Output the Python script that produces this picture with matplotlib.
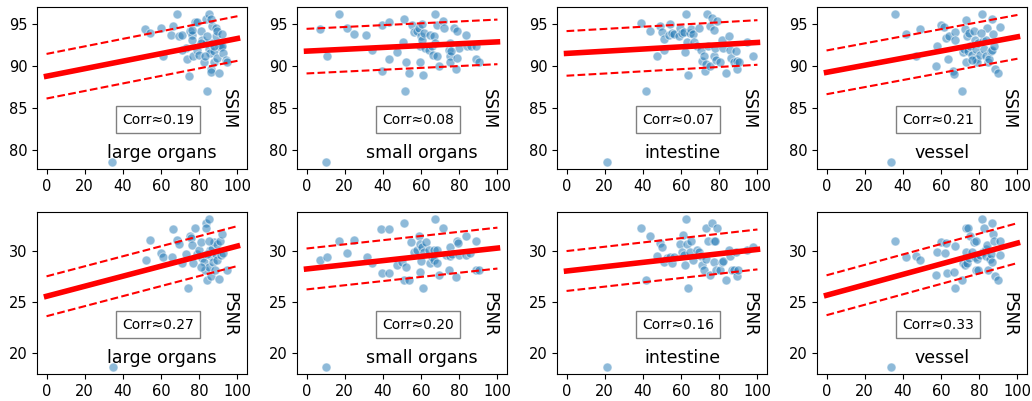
import numpy as np
import matplotlib
matplotlib.use("Agg")
import matplotlib.pyplot as plt

categories = ["large organs", "small organs", "intestine", "vessel"]
metrics = ["SSIM", "PSNR"]
corr_labels = [["0.19", "0.08", "0.07", "0.21"],
               ["0.27", "0.20", "0.16", "0.33"]]

# SSIM panels: (x, y) points
ssim_large = [(34.2, 78.6), (51.8, 94.4), (54, 93.9), (60.2, 94.5), (60.9, 91.1), (66.1, 94.7), (65.3, 93.7),
              (68.4, 96.1), (69.3, 93.5), (71, 93.7), (73.2, 92.1), (73.7, 90.8), (74.6, 88.8), (75.4, 94.1),
              (76.3, 93.7), (76.3, 93.1), (76.8, 91.1), (78, 95.2), (78.9, 95.2), (78.9, 91.9), (79.8, 91.3),
              (80.7, 94.1), (81.6, 93.1), (82.5, 90.4), (83.3, 95.6), (83.7, 92.7), (84.2, 87.0), (85.1, 96.1),
              (85.1, 92.0), (85.6, 91.5), (86, 89.6), (86.3, 89.3), (86.8, 94.7), (86.8, 92.7), (87.7, 91.7),
              (87.7, 90.4), (88.6, 94.5), (88.6, 93.5), (89.5, 94.1), (89.5, 90.9), (90.4, 92.3), (90.4, 89.1),
              (91.2, 92.2), (92.1, 92.3), (92.1, 93.8), (92.6, 91.5), (93.9, 90.7), (94.7, 90.4), (86.3, 95.5),
              (80.7, 92.7), (84.2, 93.5), (82.8, 91.1), (87.7, 92.3), (76.3, 94.3), (71, 91.9)]
ssim_small = [(10.2, 78.6), (7, 94.4), (10.5, 91.1), (17, 96.1), (21, 94.5), (24.6, 93.8), (31.2, 93.7),
              (34.2, 91.9), (39.5, 94.8), (39.5, 89.4), (43, 95.2), (43, 90.8), (47.4, 91.6), (50.5, 92.8),
              (51.2, 95.6), (51.6, 87.0), (52.1, 90.4), (53.5, 89.1), (55.3, 94.8), (56.1, 94.0), (57.9, 94.1),
              (58.8, 94.5), (59.3, 92.3), (59.6, 90.4), (60, 93.5), (60.5, 95.0), (60.5, 93.1), (61.1, 88.9),
              (61.4, 93.9), (62.3, 92.1), (64, 91.9), (64.9, 93.7), (65.8, 92.3), (66.3, 91.3), (66.7, 93.5),
              (67.5, 96.1), (67.5, 92.7), (68.1, 94.8), (68.4, 91.2), (69.6, 90.0), (71.6, 95.3), (72, 94.5),
              (74.6, 91.9), (75.1, 91.1), (75.1, 90.4), (75.4, 92.7), (77.2, 94.5), (78.1, 89.6), (78.9, 94.1),
              (78.9, 90.9), (79.8, 92.1), (83.3, 93.7), (84.2, 92.3), (86, 92.3), (88.6, 92.3), (88.6, 90.8),
              (90.4, 90.4), (75.8, 91.7)]
ssim_intestine = [(21.4, 78.6), (41.6, 87.0), (38.9, 95.1), (43.9, 94.1), (47.4, 91.1), (49.1, 94.7), (50, 94.0),
                  (50.9, 93.2), (51.2, 91.9), (53.5, 93.6), (54.4, 95.0), (55.3, 93.9), (56.5, 93.8), (58.8, 93.5),
                  (59.6, 94.5), (60.5, 93.9), (61.4, 94.0), (62.3, 91.6), (62.8, 96.1), (63.2, 92.8), (63.7, 88.9),
                  (64.6, 93.9), (65.3, 94.4), (66.3, 93.8), (66.7, 92.8), (68.4, 92.3), (69.3, 94.5), (70.2, 91.9),
                  (71, 90.5), (71.9, 91.2), (72.5, 89.4), (72.8, 90.2), (73.7, 96.1), (74, 92.3), (75.1, 90.0),
                  (75.4, 94.7), (76.3, 95.7), (77, 94.3), (77.2, 91.1), (77.7, 92.1), (78.1, 90.7), (78.9, 95.3),
                  (80.4, 90.4), (81.6, 93.1), (82.1, 92.1), (83.3, 89.1), (85.1, 93.5), (85.6, 91.9), (86, 90.9),
                  (87.7, 90.4), (88.6, 91.7), (89.1, 89.6), (89.5, 90.5), (90.4, 90.4), (94.7, 92.8), (97.7, 91.1)]
ssim_vessel = [(33.9, 78.6), (36, 96.1), (41.8, 93.8), (46.8, 91.1), (49.1, 94.4), (57.9, 92.3), (57.5, 90.0),
               (60.2, 94.8), (61.4, 94.6), (62.6, 93.3), (63.5, 90.8), (64, 93.5), (66.1, 89.4), (67, 89.0),
               (67.5, 94.0), (67.5, 93.1), (71.1, 87.0), (71.6, 91.6), (71.9, 92.0), (72.5, 94.4), (72.8, 90.4),
               (73.2, 95.4), (73.7, 93.5), (74.2, 91.8), (74.6, 93.9), (75.4, 92.3), (76.3, 91.3), (77.2, 94.1),
               (77.7, 93.1), (78.1, 90.8), (78.4, 92.0), (78.9, 90.4), (79.5, 92.7), (80.2, 91.3), (81.6, 96.1),
               (81.9, 92.9), (82.5, 92.0), (83.3, 93.1), (83.7, 91.2), (84.2, 94.5), (84.7, 90.4), (85.1, 90.8),
               (86, 91.7), (86.5, 95.5), (86.8, 91.9), (87.2, 93.8), (87.7, 92.3), (88.2, 89.6), (90, 89.1),
               (90.7, 94.6), (80.7, 93.9), (76.3, 90.7)]

# PSNR panels: (x, y) points
psnr_large = [(34.6, 18.7), (52.1, 29.1), (54, 31.1), (60.2, 29.8), (60.9, 29.4), (65.8, 29.4), (66.3, 32.2),
              (68.4, 31.1), (69.6, 30.7), (71, 28.8), (73.2, 29.7), (74, 26.4), (74.9, 31.5), (75.8, 31.3),
              (76.3, 30.6), (76.8, 28.8), (78, 32.3), (78.9, 29.7), (79.8, 30.1), (80.7, 30.9), (81.6, 29.3),
              (82.5, 28.9), (82.8, 28.1), (83.3, 32.7), (83.7, 32.3), (84.2, 27.2), (85.1, 33.1), (85.1, 28.4),
              (85.6, 30.1), (86, 29.5), (86.3, 27.6), (86.8, 30.2), (87.4, 28.9), (87.7, 30.9), (88.1, 28.1),
              (88.6, 29.7), (89.1, 30.7), (89.5, 29.1), (90.4, 27.3), (91.0, 31.0), (91.2, 29.6), (92.1, 31.7),
              (92.6, 29.8), (94.7, 28.1), (84.2, 29.7), (80.7, 28.4), (85.1, 31.0)]
psnr_small = [(10.2, 18.7), (7, 29.1), (10.9, 29.4), (17, 31.0), (21, 29.8), (24.6, 31.1), (31.6, 29.4),
              (34.2, 28.8), (39, 32.2), (39.5, 27.9), (43, 32.2), (43, 27.9), (47.4, 28.6), (50, 28.9),
              (50.9, 32.7), (51.2, 27.2), (52.1, 28.4), (53.5, 27.2), (54.7, 30.9), (56.1, 29.9), (57.9, 30.1),
              (59.1, 31.5), (59.3, 30.7), (59.6, 28.0), (60, 29.0), (60.5, 30.4), (60.9, 26.4), (61.4, 29.9),
              (62.8, 30.9), (64, 30.1), (64.6, 28.8), (65.8, 29.4), (66.7, 30.1), (66.7, 29.1), (67.5, 33.1),
              (68.1, 30.1), (68.4, 28.8), (69.6, 27.7), (71.6, 32.3), (72.8, 29.6), (74.6, 28.1), (75.1, 30.4),
              (75.4, 29.5), (76.3, 29.7), (78.1, 27.5), (78.6, 31.0), (79.3, 30.8), (79.8, 29.6), (83.3, 31.5),
              (83.3, 29.6), (85.6, 29.8), (88.6, 31.0), (88.6, 28.1), (90.4, 28.1)]
psnr_intestine = [(21.4, 18.7), (41.6, 27.2), (38.9, 32.3), (43.9, 31.5), (47.4, 29.5), (49.1, 30.8), (50, 30.4),
                  (50.9, 28.9), (52.6, 29.3), (54.4, 29.4), (55.3, 28.8), (56.5, 29.4), (59.3, 30.7), (60.5, 29.9),
                  (61.1, 31.6), (61.4, 29.6), (62.3, 28.6), (62.8, 33.1), (63.2, 30.7), (63.7, 26.4), (64.6, 29.9),
                  (65.3, 31.0), (66.3, 29.1), (68.1, 30.1), (69.3, 29.9), (70.2, 29.5), (71, 28.6), (71.9, 28.1),
                  (72.8, 32.3), (73.3, 29.2), (74, 31.0), (75.1, 27.7), (76.3, 32.7), (77, 31.0), (77.2, 28.9),
                  (77.7, 31.0), (78.1, 28.1), (78.9, 32.3), (80.4, 28.1), (81.6, 28.9), (82.1, 29.0), (83.3, 27.2),
                  (85.1, 30.1), (85.6, 29.5), (86.8, 28.1), (87.7, 28.1), (88.6, 29.9), (89.1, 27.6), (89.8, 28.1),
                  (94.7, 30.1), (97.7, 30.4)]
psnr_vessel = [(33.9, 18.7), (36, 31.0), (41.8, 29.4), (46.8, 29.5), (49.1, 29.1), (57.9, 29.9), (57.5, 27.7),
               (60.2, 30.9), (61.9, 29.8), (62.6, 30.8), (63.2, 27.9), (66.7, 28.0), (67.2, 26.4), (67.5, 30.5),
               (71.1, 27.2), (71.6, 28.8), (72.5, 28.6), (72.8, 29.9), (73.2, 32.3), (73.7, 28.8), (74.2, 32.3),
               (74.6, 29.3), (75.4, 31.5), (76.3, 29.9), (77.2, 30.9), (77.7, 29.4), (78.1, 31.0), (78.4, 28.1),
               (78.9, 29.2), (79.5, 28.1), (80.2, 29.6), (81.6, 33.1), (81.9, 29.9), (82.5, 32.3), (83.3, 29.5),
               (83.7, 30.2), (84.2, 30.6), (84.7, 28.1), (85.4, 29.2), (86, 29.7), (86.5, 32.7), (86.8, 28.9),
               (87.2, 31.7), (87.7, 31.0), (88.2, 27.6), (90, 27.2), (90.7, 29.6), (90.7, 31.0)]

points = [[ssim_large, ssim_small, ssim_intestine, ssim_vessel],
          [psnr_large, psnr_small, psnr_intestine, psnr_vessel]]

# regression lines: intercept at x=0, value at x=100, half-width of dashed band
fit_start = [[88.75, 91.73, 91.46, 89.21], [25.58, 28.25, 28.05, 25.68]]
fit_end = [[93.23, 92.83, 92.76, 93.43], [30.49, 30.29, 30.16, 30.78]]
band = [[2.65, 2.65, 2.65, 2.6], [1.95, 2.0, 1.95, 1.95]]
x_line = [0, 100]

yticks = [[80, 85, 90, 95], [20, 25, 30]]
xticks = [0, 20, 40, 60, 80, 100]

W, H = 1032, 401
fig = plt.figure(figsize=(W / 100, H / 100), dpi=100)
lefts = [37, 297, 557, 817]
tops = [7, 212]
aw, ah = 210, 162

for r in range(2):
    for c in range(4):
        ax = fig.add_axes([lefts[c] / W, 1 - (tops[r] + ah) / H, aw / W, ah / H])
        pts = np.array(points[r][c])
        ax.scatter(pts[:, 0], pts[:, 1], s=42, color="#1f77b4", alpha=0.5,
                   edgecolor="white", linewidth=0.8, zorder=2)
        y0, y1 = fit_start[r][c], fit_end[r][c]
        b = band[r][c]
        ax.plot(x_line, [y0, y1], color="red", lw=4, zorder=3)
        ax.plot(x_line, [y0 + b, y1 + b], color="red", lw=1.5, ls="--", zorder=3)
        ax.plot(x_line, [y0 - b, y1 - b], color="red", lw=1.5, ls="--", zorder=3)
        ax.set_xticks(xticks)
        ax.set_yticks(yticks[r])
        ax.tick_params(labelsize=10.5)
        ax.text(0.576, 0.305, "Corr\u2248" + corr_labels[r][c], transform=ax.transAxes,
                ha="center", va="center", fontsize=10,
                bbox=dict(boxstyle="square,pad=0.45", facecolor="white", edgecolor="gray"))
        ax.text(0.595, 0.1, categories[c], transform=ax.transAxes, ha="center",
                va="center", fontsize=12.5)
        ax.text(0.915, 0.37, metrics[r], transform=ax.transAxes, ha="center",
                va="center", fontsize=12, rotation=270)

fig.savefig("out.png", dpi=100)
